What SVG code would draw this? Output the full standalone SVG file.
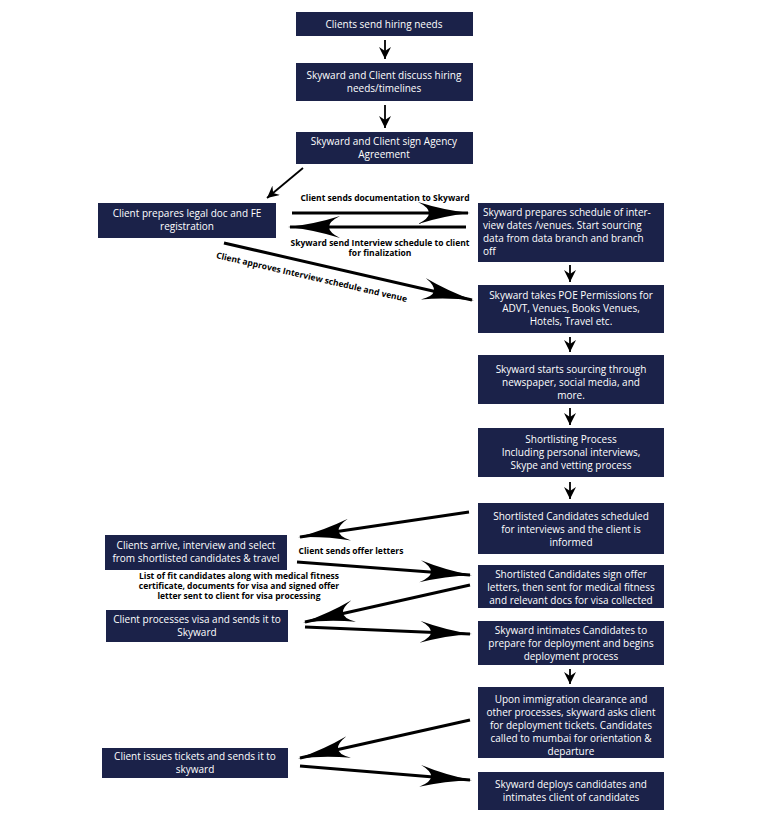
<svg xmlns="http://www.w3.org/2000/svg" width="768" height="835" viewBox="0 0 768 835">
<style>
.b{fill:#1b2249}
.t{fill:#fff;font-family:"Open Sans",sans-serif;font-size:10px;text-anchor:middle}
.l{fill:#000;font-family:"Open Sans",sans-serif;font-size:8.5px;font-weight:bold;text-anchor:middle}
.c{stroke:#000;stroke-width:3;fill:none;marker-end:url(#h)}
.s{stroke:#000;stroke-width:1.8;fill:none;marker-end:url(#hs)}
</style>
<defs>
<marker id="h" markerWidth="56" markerHeight="26" refX="50" refY="11" orient="auto" markerUnits="userSpaceOnUse">
<path d="M0,0 Q25,8 52,11 Q25,14 0,22 Q22,11 0,0Z" fill="#000"/>
</marker>
<marker id="hs" markerWidth="14" markerHeight="12" refX="12" refY="6" orient="auto" markerUnits="userSpaceOnUse">
<path d="M0,0 L12,6 L0,12 L4,6Z" fill="#000"/>
</marker>
</defs>
<rect width="768" height="835" fill="#fff"/>
<g id="n1"><rect class="b" x="296" y="12" width="177" height="24"/><text class="t" x="384" y="28">Clients send hiring needs</text></g>
<g id="n2"><rect class="b" x="296" y="63" width="177" height="38"/><text class="t" x="384" y="79">Skyward and Client discuss hiring</text><text class="t" x="384" y="92">needs/timelines</text></g>
<g id="n3"><rect class="b" x="296" y="132" width="177" height="32"/><text class="t" x="384" y="145">Skyward and Client sign Agency</text><text class="t" x="384" y="158">Agreement</text></g>
<g id="nA"><rect class="b" x="98" y="203" width="178" height="35"/><text class="t" x="187" y="217">Client prepares legal doc and FE</text><text class="t" x="187" y="230">registration</text></g>
<g id="r1"><rect class="b" x="478" y="203" width="186" height="59"/><text class="t" x="483" y="216" style="text-anchor:start">Skyward prepares schedule of inter-</text><text class="t" x="483" y="229" style="text-anchor:start">view dates /venues. Start sourcing</text><text class="t" x="483" y="242" style="text-anchor:start">data from data branch and branch</text><text class="t" x="483" y="255" style="text-anchor:start">off</text></g>
<g id="r2"><rect class="b" x="478" y="285" width="186" height="48"/><text class="t" x="571" y="299">Skyward takes POE Permissions for</text><text class="t" x="571" y="312">ADVT, Venues, Books Venues,</text><text class="t" x="571" y="325">Hotels, Travel etc.</text></g>
<g id="r3"><rect class="b" x="478" y="355" width="186" height="49"/><text class="t" x="571" y="373">Skyward starts sourcing through</text><text class="t" x="571" y="386">newspaper, social media, and</text><text class="t" x="571" y="399">more.</text></g>
<g id="r4"><rect class="b" x="478" y="428" width="186" height="49"/><text class="t" x="571" y="443">Shortlisting Process</text><text class="t" x="571" y="456">Including personal interviews,</text><text class="t" x="571" y="469">Skype and vetting process</text></g>
<g id="r5"><rect class="b" x="478" y="503" width="186" height="51"/><text class="t" x="571" y="520">Shortlisted Candidates scheduled</text><text class="t" x="571" y="533">for interviews and the client is</text><text class="t" x="571" y="546">informed</text></g>
<g id="r6"><rect class="b" x="478" y="565" width="186" height="43"/><text class="t" x="571" y="578">Shortlisted Candidates sign offer</text><text class="t" x="571" y="591">letters, then sent for medical fitness</text><text class="t" x="571" y="604">and relevant docs for visa collected</text></g>
<g id="r7"><rect class="b" x="478" y="621" width="186" height="44"/><text class="t" x="571" y="634">Skyward intimates Candidates to</text><text class="t" x="571" y="647">prepare for deployment and begins</text><text class="t" x="571" y="660">deployment process</text></g>
<g id="r8"><rect class="b" x="478" y="687" width="186" height="71"/><text class="t" x="571" y="703">Upon immigration clearance and</text><text class="t" x="571" y="716">other processes, skyward asks client</text><text class="t" x="571" y="729">for deployment tickets. Candidates</text><text class="t" x="571" y="742">called to mumbai for orientation &amp;</text><text class="t" x="571" y="755">departure</text></g>
<g id="r9"><rect class="b" x="478" y="772" width="186" height="38"/><text class="t" x="571" y="788">Skyward deploys candidates and</text><text class="t" x="571" y="801">intimates client of candidates</text></g>
<g id="nB"><rect class="b" x="105" y="535" width="182" height="35"/><text class="t" x="196" y="549">Clients arrive, interview and select</text><text class="t" x="196" y="562">from shortlisted candidates &amp; travel</text></g>
<g id="nC"><rect class="b" x="106" y="610" width="182" height="32"/><text class="t" x="197" y="623">Client processes visa and sends it to</text><text class="t" x="197" y="636">Skyward</text></g>
<g id="nD"><rect class="b" x="102" y="748" width="186" height="30"/><text class="t" x="195" y="760">Client issues tickets and sends it to</text><text class="t" x="195" y="773">skyward</text></g>
<g id="connectors">
<path class="s" d="M385,40 V59"/>
<path class="s" d="M385,105 V128"/>
<path class="s" d="M303,168 L267,198"/>
<path class="s" d="M570,265 V282"/>
<path class="s" d="M570,337 V352"/>
<path class="s" d="M570,408 V425"/>
<path class="s" d="M570,482 V499"/>
<path class="s" d="M570,669 V684"/>
<path class="c" d="M292,213 H468"/>
<path class="c" d="M466,227 H290"/>
<path class="c" d="M224,243 L472,300"/>
<path class="c" d="M469,512 L300,537"/>
<path class="c" d="M297,562 L470,575"/>
<path class="c" d="M470,585 L305,622"/>
<path class="c" d="M305,627 L470,634"/>
<path class="c" d="M470,720 L300,758"/>
<path class="c" d="M300,766 L470,780"/>
<text class="l" x="385" y="201">Client sends documentation to Skyward</text>
<text class="l" x="380" y="246">Skyward send Interview schedule to client</text>
<text class="l" x="380" y="256">for finalization</text>
<text class="l" x="311" y="280" transform="rotate(13 311 280)">Client approves Interview schedule and venue</text>
<text class="l" x="351" y="554">Client sends offer letters</text>
<text class="l" x="239" y="579">List of fit candidates along with medical fitness</text>
<text class="l" x="239" y="589">certificate, documents for visa and signed offer</text>
<text class="l" x="239" y="599">letter sent to client for visa processing</text>
</g>
</svg>
